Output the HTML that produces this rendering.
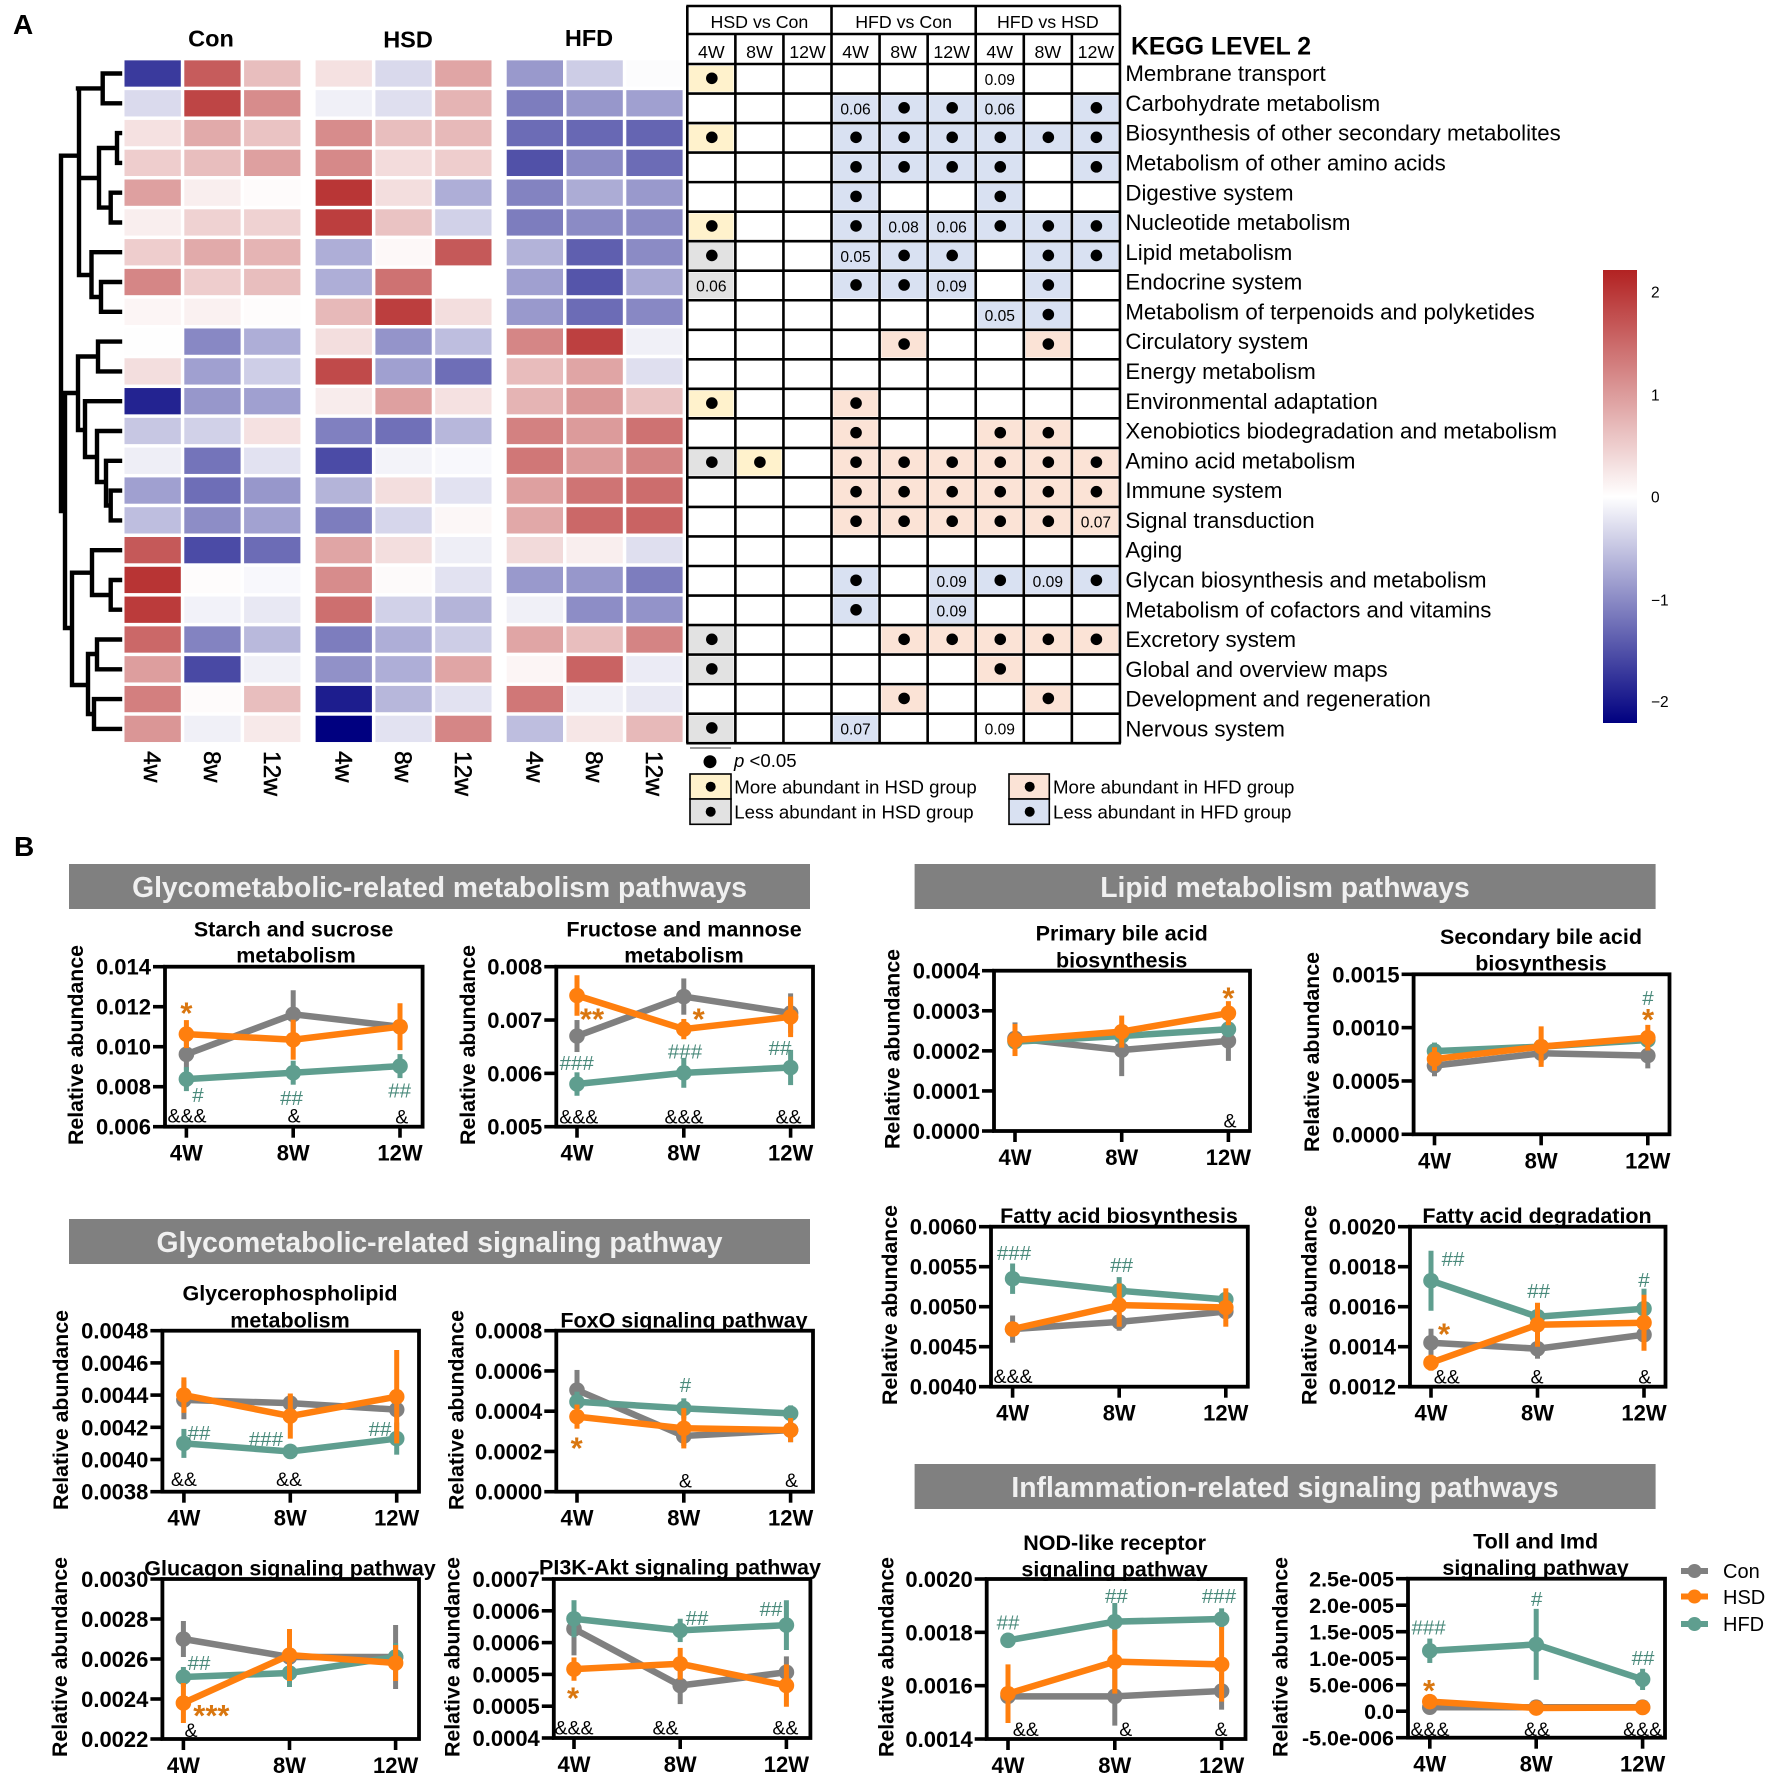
<!DOCTYPE html>
<html lang="en">
<head>
<meta charset="utf-8">
<title>KEGG level 2 heatmap and pathway abundance charts</title>
<style>
html,body{margin:0;padding:0;background:#fff;}
svg{display:block;font-family:"Liberation Sans",Arial,sans-serif;}
</style>
</head>
<body>
<svg id="figure" xmlns="http://www.w3.org/2000/svg" width="1772" height="1780" viewBox="0 0 1772 1780">
  <defs>
    <linearGradient id="cbar" x1="0" y1="0" x2="0" y2="1">
      <stop offset="0" stop-color="#b22222"/>
      <stop offset="0.5" stop-color="#ffffff"/>
      <stop offset="1" stop-color="#000080"/>
    </linearGradient>
  </defs>
  <rect width="1772" height="1780" fill="#fff"/>

  <text x="13" y="34" font-size="28" font-weight="bold">A</text>
  <text x="14" y="856" font-size="28" font-weight="bold">B</text>

  <text x="211" y="46.5" font-size="23.5" font-weight="bold" text-anchor="middle">Con</text>
  <text x="408" y="47.5" font-size="23.5" font-weight="bold" text-anchor="middle">HSD</text>
  <text x="589" y="46" font-size="23.5" font-weight="bold" text-anchor="middle">HFD</text>

  <path fill="none" stroke="#000" stroke-width="4.4" stroke-linecap="square"
    d="M120 73.5H102.7V103.3H120M102.7 88.4H78
       M120 133.1H117V162.9H120M117 148H99
       M120 192.7H110.7V222.5H120M110.7 207.6H99
       M99 148V207.6M99 178H79.5
       M120 282H101V311.8H120M101 297H91.5
       M120 252.2H91.5V297M91.5 275H80
       M79 88.4V275M79 155.7H61
       M120 341.6H98V371.4H120M98 356.5H78
       M120 401.2H85V457M85 430H78
       M120 431H97V482M97 457H85
       M120 460.8H106V505.5M106 482H97
       M120 490.6H110.7V520.4H120M110.7 505.5H106
       M78 356.5V430M78 393H61
       M61 155.7V511M65 393V628H72
       M72 572.7V685M72 572.7H92M92 550.2V595M120 550.2H92
       M120 580H110.7V609.7H120M110.7 595H92
       M72 685H88M88 654V714M88 654H97M120 639.5H97V669.3H120
       M88 714H94M120 699.1H94V728.9H120"/>

  <text x="1131" y="54.5" font-size="24.8" font-weight="bold">KEGG LEVEL 2</text>

  <g id="heatmap"></g>
  <g id="heat-ticks"></g>
  <g id="sig-table"></g>
  <g id="row-labels"></g>

  <g>
    <rect x="1603" y="270" width="34" height="453" fill="url(#cbar)"/>
    <text x="1651" y="297.5" font-size="15.5">2</text>
    <text x="1651" y="400.5" font-size="15.5">1</text>
    <text x="1651" y="502.5" font-size="15.5">0</text>
    <text x="1651" y="605.5" font-size="15.5">−1</text>
    <text x="1651" y="707" font-size="15.5">−2</text>
  </g>

  <g>
    <path d="M690 748H731" stroke="#333" stroke-width="1"/>
    <circle cx="710" cy="761.7" r="6.5" fill="#000"/>
    <text x="734" y="767" font-size="18.6"><tspan font-style="italic">p</tspan> &lt;0.05</text>
    <rect x="690" y="774" width="41" height="25" fill="#fff2cc" stroke="#000" stroke-width="1.6"/>
    <circle cx="710.7" cy="786.7" r="5" fill="#000"/>
    <rect x="690" y="799" width="41" height="25.3" fill="#e2e2e2" stroke="#000" stroke-width="1.6"/>
    <circle cx="710.7" cy="811.7" r="5" fill="#000"/>
    <text x="734.3" y="793.3" font-size="18.65">More abundant in HSD group</text>
    <text x="734.3" y="818.3" font-size="18.65">Less abundant in HSD group</text>
    <rect x="1009" y="774" width="40.3" height="25" fill="#fbe3d6" stroke="#000" stroke-width="1.6"/>
    <circle cx="1029.7" cy="786.7" r="5" fill="#000"/>
    <rect x="1009" y="799" width="40.3" height="25.3" fill="#d9e1f2" stroke="#000" stroke-width="1.6"/>
    <circle cx="1029.7" cy="811.7" r="5" fill="#000"/>
    <text x="1053" y="793.3" font-size="18.65">More abundant in HFD group</text>
    <text x="1053" y="818.3" font-size="18.65">Less abundant in HFD group</text>
  </g>

  <g>
    <rect x="69" y="864" width="741" height="45" fill="#808080"/>
    <text x="439.5" y="897" font-size="28.3" font-weight="bold" fill="#f0f0f0" text-anchor="middle">Glycometabolic-related metabolism pathways</text>
    <rect x="69" y="1219" width="741" height="45" fill="#808080"/>
    <text x="439.5" y="1252" font-size="28.3" font-weight="bold" fill="#f0f0f0" text-anchor="middle">Glycometabolic-related signaling pathway</text>
    <rect x="914.6" y="864" width="741" height="45" fill="#808080"/>
    <text x="1285" y="897" font-size="28.3" font-weight="bold" fill="#f0f0f0" text-anchor="middle">Lipid metabolism pathways</text>
    <rect x="914.6" y="1464" width="741" height="45" fill="#808080"/>
    <text x="1285" y="1497" font-size="28.3" font-weight="bold" fill="#f0f0f0" text-anchor="middle">Inflammation-related signaling pathways</text>
  </g>

  <g id="line-panels"></g>

  <g>
    <path d="M1681 1571H1708" stroke="#808080" stroke-width="6"/>
    <circle cx="1694.5" cy="1571" r="7" fill="#808080"/>
    <text x="1723" y="1578" font-size="20">Con</text>
    <path d="M1681 1596.5H1708" stroke="#ff7f0e" stroke-width="6"/>
    <circle cx="1694.5" cy="1596.5" r="7" fill="#ff7f0e"/>
    <text x="1723" y="1604" font-size="20">HSD</text>
    <path d="M1681 1624H1708" stroke="#5f9e8f" stroke-width="6"/>
    <circle cx="1694.5" cy="1624" r="7" fill="#5f9e8f"/>
    <text x="1723" y="1631" font-size="20">HFD</text>
  </g>
</svg>

<script>
/* ---------- heatmap data ---------- */
const pathways = ["Membrane transport","Carbohydrate metabolism","Biosynthesis of other secondary metabolites","Metabolism of other amino acids","Digestive system","Nucleotide metabolism","Lipid metabolism","Endocrine system","Metabolism of terpenoids and polyketides","Circulatory system","Energy metabolism","Environmental adaptation","Xenobiotics biodegradation and metabolism","Amino acid metabolism","Immune system","Signal transduction","Aging","Glycan biosynthesis and metabolism","Metabolism of cofactors and vitamins","Excretory system","Global and overview maps","Development and regeneration","Nervous system"];
const heatWeeks = ["4w","8w","12w"];
const heatCon = [[-1.7,1.62,.65],[-.32,1.85,1.14],[.3,.85,.6],[.5,.65,.95],[.95,.17,.04],[.17,.45,.45],[.5,.85,.75],[1.2,.5,.65],[.1,.14,.03],[-.01,-1.03,-.7],[.33,-.82,-.42],[-1.9,-.9,-.82],[-.48,-.4,.3],[-.15,-1.2,-.25],[-.82,-1.25,-.9],[-.56,-.98,-.8],[1.65,-1.55,-1.27],[2.02,.03,-.06],[1.95,-.11,-.2],[1.5,-1.07,-.6],[.97,-1.57,-.13],[1.27,.04,.65],[1.05,-.13,.22]];
const heatHSD = [[.3,-.33,.9],[-.13,-.28,.75],[1.14,.65,.7],[1.17,.35,.5],[2.0,.33,-.7],[1.92,.6,-.4],[-.7,.07,1.65],[-.7,1.4,0],[.7,1.92,.33],[.33,-.92,-.56],[1.8,-.82,-1.25],[.19,.95,.3],[-1.1,-1.23,-.62],[-1.55,-.1,-.06],[-.65,.33,-.25],[-1.12,-.35,.08],[.9,.33,-.15],[1.14,.05,-.25],[1.43,-.4,-.65],[-1.12,-.7,-.43],[-.95,-.7,.9],[-1.95,-.62,-.25],[-2.2,-.25,1.2]];
const heatHFD = [[-.88,-.43,-.03],[-1.12,-.9,-.82],[-1.27,-1.3,-1.33],[-1.5,-1.0,-1.27],[-1.07,-.72,-.88],[-1.12,-1.0,-1.0],[-.66,-1.38,-1.0],[-.82,-1.47,-.73],[-.88,-1.27,-1.03],[1.2,1.9,-.13],[.67,.9,-.28],[.75,1.05,.6],[1.25,1.0,1.4],[1.35,1.0,1.22],[.95,1.38,1.45],[.87,1.5,1.55],[.37,.17,-.28],[-.88,-.9,-1.12],[-.13,-.98,-.93],[.9,.65,1.22],[.1,1.55,-.17],[1.35,-.13,-.2],[-.56,.25,.7]];

/* ---------- significance table data ---------- */
const sigGroups = ["HSD vs Con","HFD vs Con","HFD vs HSD"];
const sigWeeks = ["4W","8W","12W"];
const sigRows = [
"Y* - - - - - N0.09 - -",
"- - - B0.06 B* B* B0.06 - B*",
"Y* - - B* B* B* B* B* B*",
"- - - B* B* B* B* - B*",
"- - - B* - - B* - -",
"Y* - - B* B0.08 B0.06 B* B* B*",
"G* - - B0.05 B* B* - B* B*",
"G0.06 - - B* B* B0.09 - B* -",
"- - - - - - B0.05 B* -",
"- - - - O* - - O* -",
"- - - - - - - - -",
"Y* - - O* - - - - -",
"- - - O* - - O* O* -",
"G* Y* - O* O* O* O* O* O*",
"- - - O* O* O* O* O* O*",
"- - - O* O* O* O* O* O0.07",
"- - - - - - - - -",
"- - - B* - B0.09 B* B0.09 B*",
"- - - B* - B0.09 - - -",
"G* - - - O* O* O* O* O*",
"G* - - - - - O* - -",
"- - - - O* - - O* -",
"G* - - B0.07 - - N0.09 - -"];

/* ---------- line chart data ---------- */
const weeks = ["4W","8W","12W"];

const starchTicks = [.006,.008,.010,.012,.014];
const starchTickLabels = ["0.006","0.008","0.010","0.012","0.014"];
const starchCon = [.00962,.01162,.0110];
const starchConErr = [.0008,.0012,.0003];
const starchHSD = [.01063,.01035,.0110];
const starchHSDErr = [.0007,.001,.00117];
const starchHFD = [.00838,.0087,.00903];
const starchHFDErr = [.0006,.0006,.0006];

const fructoseTicks = [.005,.006,.007,.008];
const fructoseTickLabels = ["0.005","0.006","0.007","0.008"];
const fructoseCon = [.0067,.00744,.00713];
const fructoseConErr = [.0003,.00034,.00037];
const fructoseHSD = [.00746,.00683,.00706];
const fructoseHSDErr = [.00038,.00019,.00038];
const fructoseHFD = [.0058,.00601,.00611];
const fructoseHFDErr = [.00022,.00028,.00033];

const glyceroTicks = [.0038,.0040,.0042,.0044,.0046,.0048];
const glyceroTickLabels = ["0.0038","0.0040","0.0042","0.0044","0.0046","0.0048"];
const glyceroCon = [.00437,.00435,.00431];
const glyceroConErr = [.00012,.00005,.00005];
const glyceroHSD = [.0044,.00427,.00439];
const glyceroHSDErr = [.00011,.00014,.00029];
const glyceroHFD = [.0041,.00405,.00413];
const glyceroHFDErr = [.00009,.00002,.0001];

const foxoTicks = [0,.0002,.0004,.0006,.0008];
const foxoTickLabels = ["0.0000","0.0002","0.0004","0.0006","0.0008"];
const foxoCon = [.000505,.000277,.000306];
const foxoConErr = [.0001,.00005,.00006];
const foxoHSD = [.000373,.000315,.000306];
const foxoHSDErr = [.00006,.0001,.00006];
const foxoHFD = [.000447,.000414,.000389];
const foxoHFDErr = [.00005,.00005,.00004];

const glucagonTicks = [.0022,.0024,.0026,.0028,.0030];
const glucagonTickLabels = ["0.0022","0.0024","0.0026","0.0028","0.0030"];
const glucagonCon = [.0027,.00261,.00261];
const glucagonConErr = [.00009,.00008,.00016];
const glucagonHSD = [.00238,.00262,.00258];
const glucagonHSDErr = [.0001,.00013,.00009];
const glucagonHFD = [.00251,.00253,.00261];
const glucagonHFDErr = [.00005,.00007,.00007];

const pi3kTicks = [.0004,.00046,.00052,.00058,.00064,.0007];
const pi3kTickLabels = ["0.0004","0.0005","0.0005","0.0006","0.0006","0.0007"];
const pi3kCon = [.000606,.000499,.000524];
const pi3kConErr = [.00005,.000035,.00003];
const pi3kHSD = [.00053,.00054,.000499];
const pi3kHSDErr = [.000022,.00003,.00004];
const pi3kHFD = [.000625,.000603,.000613];
const pi3kHFDErr = [.000035,.000022,.000047];

const primaryTicks = [0,.0001,.0002,.0003,.0004];
const primaryTickLabels = ["0.0000","0.0001","0.0002","0.0003","0.0004"];
const primaryCon = [.000231,.000202,.000225];
const primaryConErr = [.00004,.000065,.00005];
const primaryHSD = [.000227,.000248,.000294];
const primaryHSDErr = [.00004,.00004,.00003];
const primaryHFD = [.000223,.000237,.000254];
const primaryHFDErr = [.000025,.000025,.00002];

const secondaryTicks = [0,.0005,.0010,.0015];
const secondaryTickLabels = ["0.0000","0.0005","0.0010","0.0015"];
const secondaryCon = [.000644,.00076,.000738];
const secondaryConErr = [.0001,.00009,.00012];
const secondaryHSD = [.000706,.000822,.000906];
const secondaryHSDErr = [.00011,.00019,.00012];
const secondaryHFD = [.00078,.000822,.000884];
const secondaryHFDErr = [.00008,.00005,.00005];

const fasTicks = [.0040,.0045,.0050,.0055,.0060];
const fasTickLabels = ["0.0040","0.0045","0.0050","0.0055","0.0060"];
const fasCon = [.00472,.00481,.00494];
const fasConErr = [.00017,.00011,.00008];
const fasHSD = [.00472,.00502,.00499];
const fasHSDErr = [.00006,.00027,.00024];
const fasHFD = [.00535,.0052,.00509];
const fasHFDErr = [.00019,.00017,.00008];

const fadTicks = [.0012,.0014,.0016,.0018,.0020];
const fadTickLabels = ["0.0012","0.0014","0.0016","0.0018","0.0020"];
const fadCon = [.00142,.00139,.00146];
const fadConErr = [.00007,.00005,.00005];
const fadHSD = [.00132,.00151,.00152];
const fadHSDErr = [.00004,.00011,.00014];
const fadHFD = [.00173,.00155,.00159];
const fadHFDErr = [.00015,.00003,.0001];

const nodTicks = [.0014,.0016,.0018,.0020];
const nodTickLabels = ["0.0014","0.0016","0.0018","0.0020"];
const nodCon = [.00156,.00156,.00158];
const nodConErr = [.00003,.00011,.00007];
const nodHSD = [.00157,.00169,.00168];
const nodHSDErr = [.00011,.00012,.00014];
const nodHFD = [.00177,.00184,.00185];
const nodHFDErr = [.00001,.00007,.00004];

const tollTicks = [-5e-6,0,5e-6,1e-5,1.5e-5,2e-5,2.5e-5];
const tollTickLabels = ["-5.0e-006","0.0","5.0e-006","1.0e-005","1.5e-005","2.0e-005","2.5e-005"];
const tollCon = [7.5e-7,7.5e-7,7.5e-7];
const tollConErr = [6e-7,1.2e-6,1e-6];
const tollHSD = [1.8e-6,6e-7,7e-7];
const tollHSDErr = [6e-7,6e-7,6e-7];
const tollHFD = [1.14e-5,1.26e-5,6e-6];
const tollHFDErr = [2.3e-6,6.7e-6,2e-6];

/* ---------- helpers ---------- */
const NS = "http://www.w3.org/2000/svg";
function mk(tag, attrs, parent, txt) {
  const n = document.createElementNS(NS, tag);
  for (const k in attrs) n.setAttribute(k, attrs[k]);
  if (txt !== undefined) n.textContent = txt;
  parent.appendChild(n);
  return n;
}
function heatColor(v) {
  const t = Math.min(1, Math.abs(v) / 2.2);
  const to = v >= 0 ? [178,34,34] : [0,0,128];
  const c = to.map(ch => Math.round(255 + (ch - 255) * t));
  return "rgb(" + c.join(",") + ")";
}

/* ---------- heatmap ---------- */
const heatmap = document.getElementById("heatmap");
const heatTicks = document.getElementById("heat-ticks");
const heatGroups = [heatCon, heatHSD, heatHFD];
const heatGroupNames = ["con","hsd","hfd"];
const rowCenter = i => 73.5 + 29.79 * i;
const colLeft = (g, c) => 124.5 + g * 191.1 + c * 59.8;
heatGroups.forEach((grp, g) => {
  grp.forEach((row, r) => {
    row.forEach((v, c) => {
      const cell = mk("rect", {x: colLeft(g, c), y: rowCenter(r) - 13.15, width: 56.3, height: 26.3, fill: heatColor(v)}, heatmap);
      
      
    });
  });
  heatWeeks.forEach((w, c) => {
    const cx = colLeft(g, c) + 28.15;
    const t = mk("text", {x: 0, y: 0, transform: "translate(" + (cx - 8.5) + ",751) rotate(90)", "font-size": 24.5, stroke: "#000", "stroke-width": .5}, heatTicks, w);
    
    
  });
});

/* ---------- pathway labels ---------- */
const rowLabels = document.getElementById("row-labels");
pathways.forEach((p, i) => {
  const t = mk("text", {x: 1125.4, y: rowCenter(i) + 7.6, "font-size": 22.25}, rowLabels, p);
  
  
});

/* ---------- significance table ---------- */
const sigTable = document.getElementById("sig-table");
const tL = 687.3, tW = 48.07, tT = 64, tR = 29.53;
const fills = {Y:"#fff2cc", G:"#e2e2e2", B:"#d9e1f2", O:"#fbe3d6"};
sigRows.forEach((rowStr, r) => {
  rowStr.split(" ").forEach((tok, c) => {
    if (tok === "-") return;
    const x = tL + c * tW, y = tT + r * tR, f = tok[0], mark = tok.slice(1);
    if (fills[f]) {
      const bg = mk("rect", {x: x + 1.8, y: y + 1.8, width: tW - 3.6, height: tR - 3.6, fill: fills[f]}, sigTable);
      
      
    }
    if (mark === "*") {
      const d = mk("circle", {cx: x + tW / 2 + .5, cy: y + tR / 2 - .5, r: 5.8, fill: "#000"}, sigTable);
      
      
    } else {
      const t = mk("text", {x: x + tW / 2, y: y + tR / 2 + 6, "font-size": 15.6, "text-anchor": "middle"}, sigTable, mark);
      
      
    }
  });
});
for (let r = 0; r <= 23; r++) {
  const ln = mk("path", {d: "M" + (tL - 1) + " " + (tT + r * tR) + "H" + (tL + 9 * tW + 1), stroke: "#000", "stroke-width": 2.6}, sigTable);
  
  
}
for (let c = 0; c <= 9; c++) {
  const top = c % 3 === 0 ? 6 : 34;
  const ln = mk("path", {d: "M" + (tL + c * tW) + " " + top + "V" + (tT + 23 * tR), stroke: "#000", "stroke-width": 2.6}, sigTable);
  
  
}
[6, 34].forEach((y, i) => {
  const ln = mk("path", {d: "M" + (tL - 1) + " " + y + "H" + (tL + 9 * tW + 1), stroke: "#000", "stroke-width": 2.6}, sigTable);
  
  
});
sigGroups.forEach((g, i) => {
  const t = mk("text", {x: tL + (i * 3 + 1.5) * tW, y: 28, "font-size": 17.8, "text-anchor": "middle"}, sigTable, g);
  
  
  sigWeeks.forEach((w, c) => {
    const wt = mk("text", {x: tL + (i * 3 + c + .5) * tW, y: 58, "font-size": 17.8, "text-anchor": "middle"}, sigTable, w);
    
    
  });
});

/* ---------- line panels ---------- */
const linePanels = document.getElementById("line-panels");
const COL = {con:"#808080", hsd:"#ff7f0e", hfd:"#5f9e8f"};
const NOTE = {star:"#d9760f", hash:"#4a8a7b", amp:"#000"};

function drawPanel(p) {
  const g = mk("g", {}, linePanels);
  
  
  const ymin = p.ticks[0], ymax = p.ticks[p.ticks.length - 1];
  const yS = v => p.b - (v - ymin) / (ymax - ymin) * (p.b - p.t);
  const xS = i => p.x0 + i * p.dx;

  const series = [
    {key:"con", vals:p.con, err:p.conErr},
    {key:"hfd", vals:p.hfd, err:p.hfdErr},
    {key:"hsd", vals:p.hsd, err:p.hsdErr}
  ];
  series.forEach(s => {
    const pts = s.vals.map((v, i) => xS(i) + "," + yS(v)).join(" ");
    const line = mk("polyline", {points: pts, fill: "none", stroke: COL[s.key], "stroke-width": 6.5}, g);
    
    
    s.vals.forEach((v, i) => {
      const e = mk("line", {x1: xS(i), x2: xS(i), y1: yS(v + s.err[i]), y2: yS(v - s.err[i]), stroke: COL[s.key], "stroke-width": 5}, g);
      
      
      const c = mk("circle", {cx: xS(i), cy: yS(v), r: 7.8, fill: COL[s.key]}, g);
      
      
    });
  });

  const box = mk("rect", {x: p.l, y: p.t, width: p.r - p.l, height: p.b - p.t, fill: "none", stroke: "#000", "stroke-width": 3.8}, g);
  
  

  p.ticks.forEach((v, i) => {
    const y = yS(v);
    const tk = mk("line", {x1: p.l - 12, x2: p.l, y1: y, y2: y, stroke: "#000", "stroke-width": 3.6}, g);
    
    
    const lb = mk("text", {x: p.l - 14, y: y + 8, "font-size": p.tickFont || 22, "font-weight": "bold", "text-anchor": "end"}, g, p.tickLabels[i]);
    
    
  });
  weeks.forEach((w, i) => {
    const x = xS(i);
    const tk = mk("line", {x1: x, x2: x, y1: p.b, y2: p.b + 11, stroke: "#000", "stroke-width": 3.6}, g);
    
    
    const lb = mk("text", {x: x, y: p.b + 34, "font-size": 22, "font-weight": "bold", "text-anchor": "middle"}, g, w);
    
    
  });

  const yt = mk("text", {transform: "translate(" + (p.yTitleX + 7.5) + "," + p.yTitleY + ") rotate(-90)", "font-size": 21.3, "font-weight": "bold", "text-anchor": "middle"}, g, "Relative abundance");
  
  

  p.title.forEach((line, i) => {
    const t = mk("text", {x: line[1], y: line[2] + 7.5, "font-size": 21.5, "font-weight": "bold", "text-anchor": "middle"}, g, line[0]);
    
    
  });

  p.notes.forEach((n, i) => {
    const txt = n[0], kind = txt[0] === "*" ? "star" : txt[0] === "#" ? "hash" : "amp";
    const size = kind === "star" ? 31 : kind === "hash" ? 20.5 : 19.5;
    const base = kind === "star" ? n[2] + 17 : n[2] + 7;
    const t = mk("text", {x: n[1], y: base, "font-size": size, "font-weight": kind === "star" ? "bold" : "normal", fill: NOTE[kind], "text-anchor": "middle"}, g, txt);
    
    
  });
}

drawPanel({id:"starch", l:165, r:422.6, t:966.7, b:1126.7, x0:186.4, dx:106.8,
  ticks:starchTicks, tickLabels:starchTickLabels, con:starchCon, conErr:starchConErr, hsd:starchHSD, hsdErr:starchHSDErr, hfd:starchHFD, hfdErr:starchHFDErr,
  yTitleX:75.7, yTitleY:1045,
  title:[["Starch and sucrose",293.6,929],["metabolism",296,955]],
  notes:[["*",186.4,1006.7],["#",198,1095],["##",291.5,1098],["##",399.7,1090.7],["&&&",187,1115.7],["&",294,1115.7],["&",401.7,1116.7]]});

drawPanel({id:"fructose", l:556.3, r:813, t:966.7, b:1126.7, x0:577, dx:106.8,
  ticks:fructoseTicks, tickLabels:fructoseTickLabels, con:fructoseCon, conErr:fructoseConErr, hsd:fructoseHSD, hsdErr:fructoseHSDErr, hfd:fructoseHFD, hfdErr:fructoseHFDErr,
  yTitleX:467.5, yTitleY:1045,
  title:[["Fructose and mannose",684,929],["metabolism",684,955]],
  notes:[["**",592,1012.7],["*",698.7,1012.7],["###",576.7,1063],["###",685,1051.7],["##",780,1048],["&&&",578.8,1116.7],["&&&",684,1116.7],["&&",788.5,1116.7]]});

drawPanel({id:"glycerophospholipid", l:162.4, r:419, t:1330.7, b:1491.7, x0:183.9, dx:106.4,
  ticks:glyceroTicks, tickLabels:glyceroTickLabels, con:glyceroCon, conErr:glyceroConErr, hsd:glyceroHSD, hsdErr:glyceroHSDErr, hfd:glyceroHFD, hfdErr:glyceroHFDErr,
  yTitleX:60.4, yTitleY:1410,
  title:[["Glycerophospholipid",290,1293],["metabolism",290,1320]],
  notes:[["##",199,1433],["###",266,1439],["##",380,1429],["&&",183.9,1479],["&&",289,1479]]});

drawPanel({id:"foxo", l:556.3, r:813, t:1330.7, b:1491.7, x0:577, dx:106.8,
  ticks:foxoTicks, tickLabels:foxoTickLabels, con:foxoCon, conErr:foxoConErr, hsd:foxoHSD, hsdErr:foxoHSDErr, hfd:foxoHFD, hfdErr:foxoHFDErr,
  yTitleX:456, yTitleY:1410,
  title:[["FoxO signaling pathway",684,1320]],
  notes:[["*",576.7,1441.7],["#",685.4,1385],["&",685.4,1480.7],["&",791.5,1480]]});

drawPanel({id:"glucagon", l:162.4, r:419, t:1579, b:1739, x0:183.4, dx:106.1,
  ticks:glucagonTicks, tickLabels:glucagonTickLabels, con:glucagonCon, conErr:glucagonConErr, hsd:glucagonHSD, hsdErr:glucagonHSDErr, hfd:glucagonHFD, hfdErr:glucagonHFDErr,
  yTitleX:59.4, yTitleY:1657,
  title:[["Glucagon signaling pathway",290,1568]],
  notes:[["##",199,1663],["***",211.4,1709],["&",191,1730]]});

drawPanel({id:"pi3k-akt", l:553.8, r:810.4, t:1579, b:1738, x0:574, dx:106.2,
  ticks:pi3kTicks, tickLabels:pi3kTickLabels, con:pi3kCon, conErr:pi3kConErr, hsd:pi3kHSD, hsdErr:pi3kHSDErr, hfd:pi3kHFD, hfdErr:pi3kHFDErr,
  yTitleX:452, yTitleY:1657,
  title:[["PI3K-Akt signaling pathway",680,1567]],
  notes:[["##",697,1618],["##",771,1609],["*",573,1691.7],["&&&",574,1727.7],["&&",665.5,1727.7],["&&",785.4,1727.7]]});

drawPanel({id:"primary-bile", l:994, r:1250, t:970.7, b:1131, x0:1015, dx:106.7,
  ticks:primaryTicks, tickLabels:primaryTickLabels, con:primaryCon, conErr:primaryConErr, hsd:primaryHSD, hsdErr:primaryHSDErr, hfd:primaryHFD, hfdErr:primaryHFDErr,
  yTitleX:892, yTitleY:1049,
  title:[["Primary bile acid",1121.7,933],["biosynthesis",1121.7,960]],
  notes:[["*",1228.4,991.7],["&",1230,1120.7]]});

drawPanel({id:"secondary-bile", l:1413.6, r:1669.5, t:974.3, b:1134.3, x0:1434.5, dx:106.65,
  ticks:secondaryTicks, tickLabels:secondaryTickLabels, con:secondaryCon, conErr:secondaryConErr, hsd:secondaryHSD, hsdErr:secondaryHSDErr, hfd:secondaryHFD, hfdErr:secondaryHFDErr,
  yTitleX:1311.5, yTitleY:1052,
  title:[["Secondary bile acid",1541,936.7],["biosynthesis",1541,963]],
  notes:[["#",1648,998],["*",1648,1013]]});

drawPanel({id:"fatty-acid-biosynthesis", l:991, r:1247.8, t:1226.7, b:1386.7, x0:1012.6, dx:106.6,
  ticks:fasTicks, tickLabels:fasTickLabels, con:fasCon, conErr:fasConErr, hsd:fasHSD, hsdErr:fasHSDErr, hfd:fasHFD, hfdErr:fasHFDErr,
  yTitleX:889.6, yTitleY:1305,
  title:[["Fatty acid biosynthesis",1119,1215.7]],
  notes:[["###",1014,1253],["##",1121.7,1265],["&&&",1013,1376]]});

drawPanel({id:"fatty-acid-degradation", l:1410, r:1665.5, t:1226.7, b:1386.7, x0:1431, dx:106.5,
  ticks:fadTicks, tickLabels:fadTickLabels, con:fadCon, conErr:fadConErr, hsd:fadHSD, hsdErr:fadHSDErr, hfd:fadHFD, hfdErr:fadHFDErr,
  yTitleX:1309, yTitleY:1305,
  title:[["Fatty acid degradation",1537,1215.7]],
  notes:[["##",1453,1259],["##",1538.6,1291],["#",1644,1280],["*",1444,1327.7],["&&",1446.7,1376.7],["&",1537,1376.7],["&",1644.7,1376.7]]});

drawPanel({id:"nod-like", l:986.7, r:1245.5, t:1579, b:1739, x0:1008, dx:106.8,
  ticks:nodTicks, tickLabels:nodTickLabels, con:nodCon, conErr:nodConErr, hsd:nodHSD, hsdErr:nodHSDErr, hfd:nodHFD, hfdErr:nodHFDErr,
  yTitleX:886, yTitleY:1657,
  title:[["NOD-like receptor",1114.6,1542.7],["signaling pathway",1114.6,1569]],
  notes:[["##",1008,1622.7],["##",1116.4,1596],["###",1219,1596],["&&",1025.7,1729],["&",1125.7,1729],["&",1221,1729]]});

drawPanel({id:"toll-imd", l:1408, r:1665, t:1578.7, b:1737.7, x0:1429.8, dx:106.4, tickFont:21.5,
  ticks:tollTicks, tickLabels:tollTickLabels, con:tollCon, conErr:tollConErr, hsd:tollHSD, hsdErr:tollHSDErr, hfd:tollHFD, hfdErr:tollHFDErr,
  yTitleX:1280, yTitleY:1657,
  title:[["Toll and Imd",1535.6,1541],["signaling pathway",1535.6,1567.7]],
  notes:[["###",1428.6,1627.7],["#",1536.7,1599],["##",1643,1658],["*",1429,1684],["&&&",1430,1729],["&&",1537,1729],["&&&",1642.6,1729]]});
</script>
</body>
</html>
